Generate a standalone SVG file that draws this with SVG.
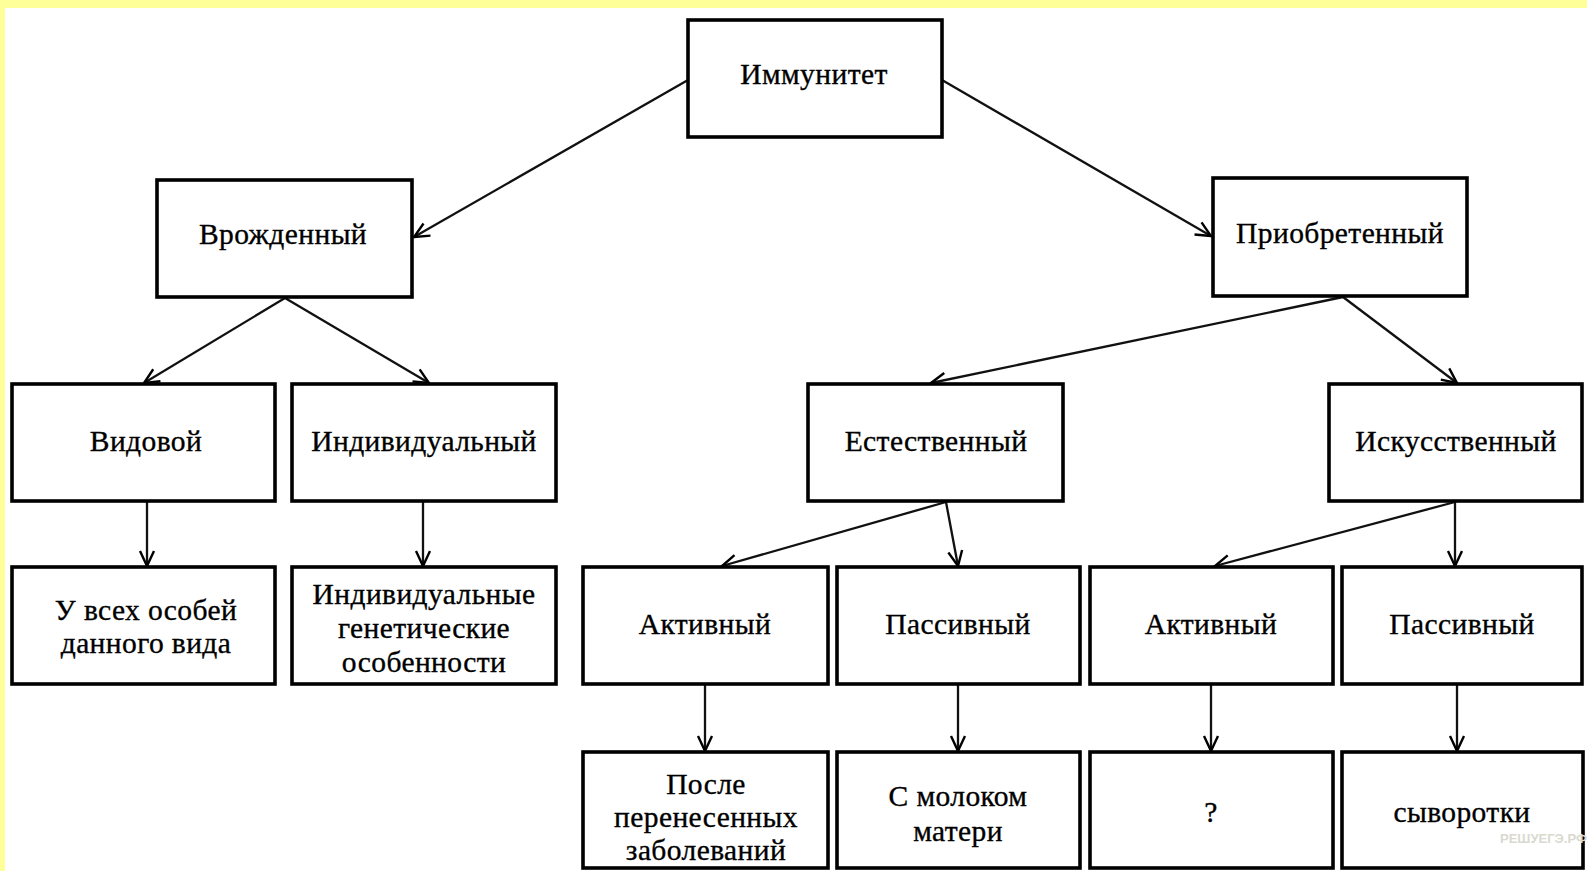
<svg xmlns="http://www.w3.org/2000/svg" width="1587" height="871" viewBox="0 0 1587 871">
<style>
.box{fill:#fff;stroke:#000;stroke-width:3.6}
.t{font-family:"Liberation Serif","Times New Roman",serif;font-size:29.5px;letter-spacing:0.4px;fill:#000;stroke:#000;stroke-width:0.35;text-anchor:middle}
.c{stroke:#111;stroke-width:2.3;fill:none;marker-end:url(#ah)}
.wm{font-family:"Liberation Sans",Arial,sans-serif;font-size:13px;font-weight:bold;fill:#d9d9cf}
</style>
<defs>
<marker id="ah" markerUnits="userSpaceOnUse" viewBox="-18 -10 20 20" refX="0" refY="0" markerWidth="20" markerHeight="20" orient="auto">
<path d="M-15,-7 L0,0 L-15,7" fill="none" stroke="#000" stroke-width="2.4"/>
</marker>
</defs>
<rect x="0" y="0" width="1587" height="871" fill="#fff"/>
<rect x="0" y="0" width="1587" height="8" fill="#ffff99"/>
<rect x="0" y="0" width="5" height="871" fill="#ffff99"/>

<g id="connectors">
<line class="c" x1="688" y1="80" x2="414" y2="237"/>
<line class="c" x1="942" y1="80" x2="1211" y2="236"/>
<line class="c" x1="285" y1="298" x2="144" y2="383"/>
<line class="c" x1="285" y1="298" x2="429" y2="383"/>
<line class="c" x1="1343" y1="297" x2="931" y2="383"/>
<line class="c" x1="1343" y1="297" x2="1457" y2="383"/>
<line class="c" x1="147" y1="502" x2="147" y2="566"/>
<line class="c" x1="423" y1="502" x2="423" y2="566"/>
<line class="c" x1="946" y1="502" x2="722" y2="566"/>
<line class="c" x1="946" y1="502" x2="958" y2="566"/>
<line class="c" x1="1455" y1="502" x2="1215" y2="566"/>
<line class="c" x1="1455" y1="502" x2="1455" y2="566"/>
<line class="c" x1="705" y1="685" x2="705" y2="751"/>
<line class="c" x1="958" y1="685" x2="958" y2="751"/>
<line class="c" x1="1211" y1="685" x2="1211" y2="751"/>
<line class="c" x1="1457" y1="685" x2="1457" y2="751"/>
</g>

<g id="n-immunitet"><rect class="box" x="688" y="20" width="254" height="117"/><text class="t" x="814" y="84">Иммунитет</text></g>
<g id="n-vrozhd"><rect class="box" x="157" y="180" width="255" height="117"/><text class="t" x="283" y="244">Врожденный</text></g>
<g id="n-priobr"><rect class="box" x="1213" y="178" width="254" height="118"/><text class="t" x="1340" y="243">Приобретенный</text></g>

<g id="n-vidovoy"><rect class="box" x="12" y="384" width="263" height="117"/><text class="t" x="146" y="451">Видовой</text></g>
<g id="n-individ"><rect class="box" x="292" y="384" width="264" height="117"/><text class="t" x="424" y="451">Индивидуальный</text></g>
<g id="n-estestv"><rect class="box" x="808" y="384" width="255" height="117"/><text class="t" x="936" y="451">Естественный</text></g>
<g id="n-iskusstv"><rect class="box" x="1329" y="384" width="253" height="117"/><text class="t" x="1456" y="451">Искусственный</text></g>

<g id="n-vse"><rect class="box" x="12" y="567" width="263" height="117"/><text class="t" x="146" y="620">У всех особей</text><text class="t" x="146" y="653">данного вида</text></g>
<g id="n-genet"><rect class="box" x="292" y="567" width="264" height="117"/><text class="t" x="424" y="604">Индивидуальные</text><text class="t" x="424" y="638">генетические</text><text class="t" x="424" y="672">особенности</text></g>
<g id="n-akt1"><rect class="box" x="583" y="567" width="245" height="117"/><text class="t" x="705" y="634">Активный</text></g>
<g id="n-pas1"><rect class="box" x="837" y="567" width="243" height="117"/><text class="t" x="958" y="634">Пассивный</text></g>
<g id="n-akt2"><rect class="box" x="1090" y="567" width="243" height="117"/><text class="t" x="1211" y="634">Активный</text></g>
<g id="n-pas2"><rect class="box" x="1342" y="567" width="240" height="117"/><text class="t" x="1462" y="634">Пассивный</text></g>

<g id="n-posle"><rect class="box" x="583" y="752" width="245" height="116"/><text class="t" x="706" y="794">После</text><text class="t" x="706" y="827">перенесенных</text><text class="t" x="706" y="860">заболеваний</text></g>
<g id="n-moloko"><rect class="box" x="837" y="752" width="243" height="116"/><text class="t" x="958" y="806">С молоком</text><text class="t" x="958" y="841">матери</text></g>
<g id="n-q"><rect class="box" x="1090" y="752" width="243" height="116"/><text class="t" x="1211" y="822">?</text></g>
<g id="n-syv"><rect class="box" x="1342" y="752" width="241" height="116"/><text class="t" x="1462" y="822">сыворотки</text></g>
<text class="wm" x="1500" y="843">РЕШУЕГЭ.РФ</text>
</svg>
